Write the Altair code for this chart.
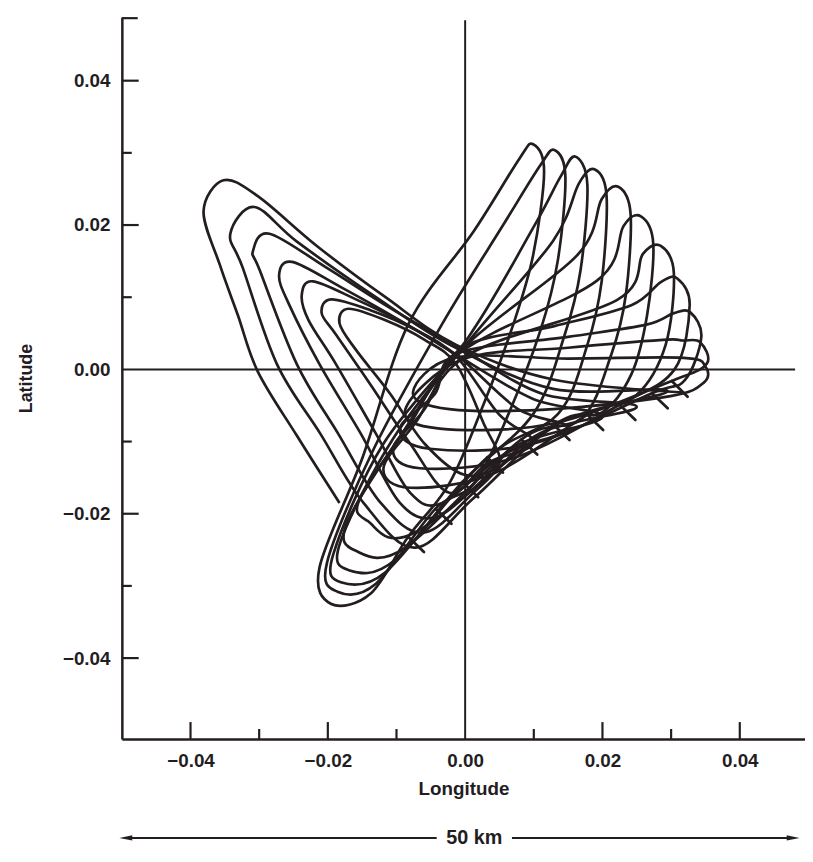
import altair as alt
import pandas as pd

# ---------------- data (longitude, latitude) ----------------
TICK_LABELS = [-0.04, -0.02, 0.0, 0.02, 0.04]
X_MAJOR = [-0.04, -0.02, 0.02, 0.04]
X_MINOR = [-0.03, -0.01, 0.01, 0.03]
Y_MAJOR = [-0.04, -0.02, 0.02, 0.04]
Y_MINOR = [-0.03, -0.01, 0.01, 0.03]

# daily loops whose far ends fan out to the upper right (tip first, then clockwise)
NE1 = [(0.0099, 0.0312), (0.0115, 0.0274), (0.0099, 0.0158), (0.0070, 0.0062), (0.0027, -0.0048),
       (-0.0023, -0.0158), (-0.0083, -0.0232),
       (-0.0138, -0.0311), (-0.0195, -0.0325), (-0.0212, -0.0274),
       (-0.0149, -0.0121), (-0.0083, 0.0062), (0.0013, 0.0192), (0.0079, 0.0292)]
NE2 = [(0.0130, 0.0304), (0.0146, 0.0267), (0.0135, 0.0151), (0.0110, 0.0055), (0.0063, -0.0062),
       (0.0013, -0.0158), (-0.0043, -0.0193),
       (-0.0130, -0.0297), (-0.0186, -0.0308), (-0.0201, -0.0267),
       (-0.0133, -0.0110), (-0.0034, 0.0062), (0.0056, 0.0201), (0.0109, 0.0282)]
NE3 = [(0.0160, 0.0295), (0.0178, 0.0256), (0.0168, 0.0137), (0.0145, 0.0048), (0.0099, -0.0062),
       (-0.0004, -0.0156),
       (-0.0116, -0.0281), (-0.0181, -0.0295), (-0.0192, -0.0256), (-0.0119, -0.0103),
       (0.0005, 0.0045), (0.0099, 0.0196), (0.0139, 0.0267)]
NE4 = [(0.0189, 0.0277), (0.0206, 0.0240), (0.0199, 0.0123), (0.0178, 0.0034), (0.0135, -0.0062),
       (0.0032, -0.0122),
       (-0.0102, -0.0264), (-0.0170, -0.0278), (-0.0182, -0.0240), (-0.0105, -0.0096),
       (0.0006, 0.0040), (0.0128, 0.0178), (0.0166, 0.0258)]
NE5 = [(0.0223, 0.0253), (0.0241, 0.0215), (0.0234, 0.0103), (0.0213, 0.0021), (0.0170, -0.0068),
       (0.0082, -0.0097),
       (-0.0087, -0.0247), (-0.0160, -0.0251), (-0.0172, -0.0212), (-0.0090, -0.0086),
       (0.0000, 0.0032), (0.0163, 0.0158), (0.0199, 0.0236)]
NE6 = [(0.0256, 0.0212), (0.0274, 0.0174), (0.0265, 0.0075), (0.0242, -0.0007), (0.0199, -0.0060),
       (0.0129, -0.0077),
       (-0.0073, -0.0226), (-0.0142, -0.0210), (-0.0153, -0.0178), (-0.0080, -0.0075),
       (-0.0006, 0.0024), (0.0192, 0.0123), (0.0231, 0.0199)]
NE7 = [(0.0285, 0.0171), (0.0304, 0.0133), (0.0292, 0.0034), (0.0250, -0.0035),
       (0.0178, -0.0063),
       (0.0042, -0.0144), (-0.0080, -0.0164), (-0.0119, -0.0137), (-0.0073, -0.0075),
       (0.0004, 0.0020), (0.0221, 0.0096), (0.0259, 0.0160)]
NE8 = [(0.0309, 0.0126), (0.0327, 0.0089), (0.0305, 0.0000),
       (0.0225, -0.0049),
       (0.0070, -0.0123), (-0.0066, -0.0137), (-0.0105, -0.0110), (-0.0059, -0.0055),
       (-0.0004, 0.0030), (0.0130, 0.0060), (0.0242, 0.0089), (0.0285, 0.0121)]
NE9 = [(0.0328, 0.0079), (0.0344, 0.0045), (0.0320, -0.0015),
       (0.0272, -0.0033),
       (0.0099, -0.0103), (-0.0052, -0.0110), (-0.0095, -0.0082), (-0.0044, -0.0034),
       (-0.0012, 0.0022), (0.0150, 0.0045), (0.0264, 0.0062), (0.0304, 0.0078)]
NE10 = [(0.0342, 0.0038), (0.0352, 0.0008),
        (0.0301, -0.0016),
        (0.0128, -0.0075), (-0.0037, -0.0082), (-0.0087, -0.0055),
        (-0.0004, 0.0014), (0.0150, 0.0030), (0.0288, 0.0041), (0.0317, 0.0040)]
NE11 = [(0.0350, 0.0004), (0.0348, -0.0018), (0.0299, -0.0037), (0.0128, -0.0055), (-0.0023, -0.0055),
        (-0.0076, -0.0032), (-0.0016, 0.0016), (0.0150, 0.0015), (0.0318, 0.0016)]

# loops whose far ends are the nested tips in the upper left
UL2 = [(-0.0342, 0.0188), (-0.0307, 0.0225), (-0.0245, 0.0177), (-0.0130, 0.0100), (-0.0020, 0.0033),
       (0.0128, -0.0027), (0.0295, -0.0030), (0.0140, -0.0073), (0.0013, -0.0178), (-0.0073, -0.0247),
       (-0.0148, -0.0185), (-0.0211, -0.0089), (-0.0274, 0.0007), (-0.0324, 0.0141)]
UL3 = [(-0.0309, 0.0164), (-0.0285, 0.0188), (-0.0202, 0.0141), (-0.0109, 0.0085), (-0.0008, 0.0030),
       (0.0113, -0.0034), (0.0250, -0.0052), (0.0110, -0.0088), (0.0020, -0.0164), (-0.0059, -0.0226),
       (-0.0123, -0.0185), (-0.0185, -0.0089), (-0.0245, 0.0007), (-0.0299, 0.0137)]
UL4 = [(-0.0271, 0.0130), (-0.0252, 0.0149), (-0.0181, 0.0114), (-0.0095, 0.0068), (-0.0016, 0.0022),
       (0.0099, -0.0041), (0.0200, -0.0066), (0.0080, -0.0103), (0.0020, -0.0158), (-0.0044, -0.0205),
       (-0.0095, -0.0185), (-0.0152, -0.0089), (-0.0212, 0.0007), (-0.0256, 0.0089)]
UL5 = [(-0.0238, 0.0103), (-0.0222, 0.0122), (-0.0159, 0.0097), (-0.0085, 0.0062), (-0.0010, 0.0018),
       (0.0077, -0.0055), (0.0150, -0.0082), (0.0056, -0.0118), (-0.0033, -0.0185), (-0.0080, -0.0171),
       (-0.0130, -0.0089), (-0.0188, 0.0007), (-0.0228, 0.0068)]
UL6 = [(-0.0209, 0.0078), (-0.0195, 0.0097), (-0.0138, 0.0082), (-0.0073, 0.0055), (-0.0013, 0.0018),
       (0.0049, -0.0062), (0.0100, -0.0102), (0.0034, -0.0129), (-0.0023, -0.0171), (-0.0080, -0.0103),
       (-0.0138, -0.0021), (-0.0188, 0.0048)]
UL7 = [(-0.0183, 0.0064), (-0.0170, 0.0084), (-0.0116, 0.0068), (-0.0059, 0.0041), (-0.0013, 0.0007),
       (0.0027, -0.0075), (0.0050, -0.0130), (-0.0001, -0.0146), (-0.0059, -0.0103), (-0.0109, -0.0034),
       (-0.0159, 0.0027)]

# the open end of the track (outermost upper-left loop)
UL1_OPEN = [(-0.0183, -0.0185), (-0.0245, -0.0092), (-0.0302, -0.0003), (-0.0331, 0.0075), (-0.0357, 0.0144),
            (-0.0381, 0.0219), (-0.0352, 0.0262), (-0.0302, 0.0240), (-0.0216, 0.0171), (-0.0116, 0.0100),
            (-0.0013, 0.0034), (0.0128, -0.0014), (0.0318, -0.0032)]

# short cusps sticking out of the lower-right band: base (on the band) and tip
SPIKE_BASE_LON = [0.0301, 0.0272, 0.0225, 0.0178, 0.0129, 0.0082, 0.0032, -0.0004, -0.0043, -0.0083]
SPIKE_BASE_LAT = [-0.0016, -0.0033, -0.0049, -0.0063, -0.0077, -0.0097, -0.0122, -0.0156, -0.0193, -0.0232]
SPIKE_TIP_LON = [0.0324, 0.0295, 0.0248, 0.0201, 0.0152, 0.0105, 0.0055, 0.0019, -0.0020, -0.0060]
SPIKE_TIP_LAT = [-0.0038, -0.0054, -0.0070, -0.0084, -0.0098, -0.0118, -0.0143, -0.0177, -0.0214, -0.0253]

CLOSED = [("NE1", NE1), ("NE2", NE2), ("NE3", NE3), ("NE4", NE4), ("NE5", NE5), ("NE6", NE6),
          ("NE7", NE7), ("NE8", NE8), ("NE9", NE9), ("NE10", NE10), ("NE11", NE11),
          ("UL2", UL2), ("UL3", UL3), ("UL4", UL4), ("UL5", UL5), ("UL6", UL6), ("UL7", UL7)]


def frame(name, pts):
    return pd.DataFrame({"loop": name, "ord": list(range(len(pts))),
                         "lon": [p[0] for p in pts], "lat": [p[1] for p in pts]})


closed_df = pd.concat([frame(n, p) for n, p in CLOSED], ignore_index=True)
open_df = frame("UL1", UL1_OPEN)
spike_df = pd.DataFrame({"lon": SPIKE_BASE_LON, "lat": SPIKE_BASE_LAT,
                         "lon2": SPIKE_TIP_LON, "lat2": SPIKE_TIP_LAT})

# ---------------- styling ----------------
W, H = 690, 729
INK = "#231d1f"
FONT = "Liberation Sans"
xs = alt.Scale(domain=[-0.05, 0.0495], nice=False, zero=False)
ys = alt.Scale(domain=[-0.0512, 0.0488], nice=False, zero=False)

x_axis = alt.Axis(values=TICK_LABELS, format=".2f", ticks=False, grid=False,
                  domainColor=INK, domainWidth=2.5, labelFont=FONT, labelFontSize=19,
                  labelFontWeight="bold", labelColor=INK, labelPadding=13,
                  title="Longitude", titleFont=FONT, titleFontSize=19, titleFontWeight="bold",
                  titleColor=INK, titlePadding=9)
y_axis = alt.Axis(values=TICK_LABELS, format=".2f", ticks=False, grid=False,
                  domainColor=INK, domainWidth=2.5, labelFont=FONT, labelFontSize=19,
                  labelFontWeight="bold", labelColor=INK, labelPadding=12,
                  title="Latitude", titleFont=FONT, titleFontSize=18, titleFontWeight="bold",
                  titleColor=INK, titlePadding=27)

X = lambda: alt.X("lon:Q", scale=xs, axis=x_axis)
Y = lambda: alt.Y("lat:Q", scale=ys, axis=y_axis)

curves = alt.Chart(closed_df).mark_line(
    interpolate="cardinal-closed", color=INK, strokeWidth=2.7
).encode(x=X(), y=Y(), detail="loop:N", order="ord:Q")

open_curve = alt.Chart(open_df).mark_line(
    interpolate="cardinal", color=INK, strokeWidth=2.7
).encode(x=X(), y=Y(), order="ord:Q")

spikes = alt.Chart(spike_df).mark_rule(color=INK, strokeWidth=2.8, strokeCap="round").encode(
    x=X(), y=Y(), x2="lon2:Q", y2="lat2:Q")

vline = alt.Chart(pd.DataFrame({"lon": [0.0]})).mark_rule(color=INK, strokeWidth=2).encode(
    x=X(), y=alt.value(3), y2=alt.value(H))
hline = alt.Chart(pd.DataFrame({"lat": [0.0]})).mark_rule(color=INK, strokeWidth=2).encode(
    y=Y(), x=alt.value(0), x2=alt.value(680))


def xticks(vals, length):
    return alt.Chart(pd.DataFrame({"lon": vals})).mark_rule(color=INK, strokeWidth=2.2).encode(
        x=X(), y=alt.value(H), y2=alt.value(H - length))


def yticks(vals, length):
    return alt.Chart(pd.DataFrame({"lat": vals})).mark_rule(color=INK, strokeWidth=2.2).encode(
        y=Y(), x=alt.value(0), x2=alt.value(length))


one = pd.DataFrame({"k": [0]})
top_tick = alt.Chart(one).mark_rule(color=INK, strokeWidth=2.2).encode(
    x=alt.value(0), x2=alt.value(16), y=alt.value(1))

AY = H + 100
arrow_l = alt.Chart(one).mark_rule(color=INK, strokeWidth=2).encode(
    x=alt.value(4), x2=alt.value(318), y=alt.value(AY))
arrow_r = alt.Chart(one).mark_rule(color=INK, strokeWidth=2).encode(
    x=alt.value(394), x2=alt.value(678), y=alt.value(AY))
head_l = alt.Chart(one).mark_point(
    shape="M -1 0 L 1 -0.4 L 1 0.4 Z", filled=True, color=INK, opacity=1, size=170
).encode(x=alt.value(4), y=alt.value(AY))
head_r = alt.Chart(one).mark_point(
    shape="M 1 0 L -1 -0.4 L -1 0.4 Z", filled=True, color=INK, opacity=1, size=170
).encode(x=alt.value(678), y=alt.value(AY))
km = alt.Chart(pd.DataFrame({"t": ["50 km"]})).mark_text(
    font=FONT, fontSize=20, fontWeight="bold", color=INK, align="center", baseline="middle"
).encode(text="t:N", x=alt.value(356), y=alt.value(AY))

chart = alt.layer(
    curves, open_curve, spikes, vline, hline,
    xticks(X_MAJOR, 17), xticks(X_MINOR, 10), yticks(Y_MAJOR, 17), yticks(Y_MINOR, 10), top_tick,
    arrow_l, arrow_r, head_l, head_r, km,
).properties(
    width=W, height=H,
    padding={"left": 115, "top": 5, "right": 0, "bottom": 115},
    autosize=alt.AutoSizeParams(type="none"),
    background="white",
).configure_view(stroke=None)

chart.save("out.html", embed_options={"renderer": "svg", "actions": False})
